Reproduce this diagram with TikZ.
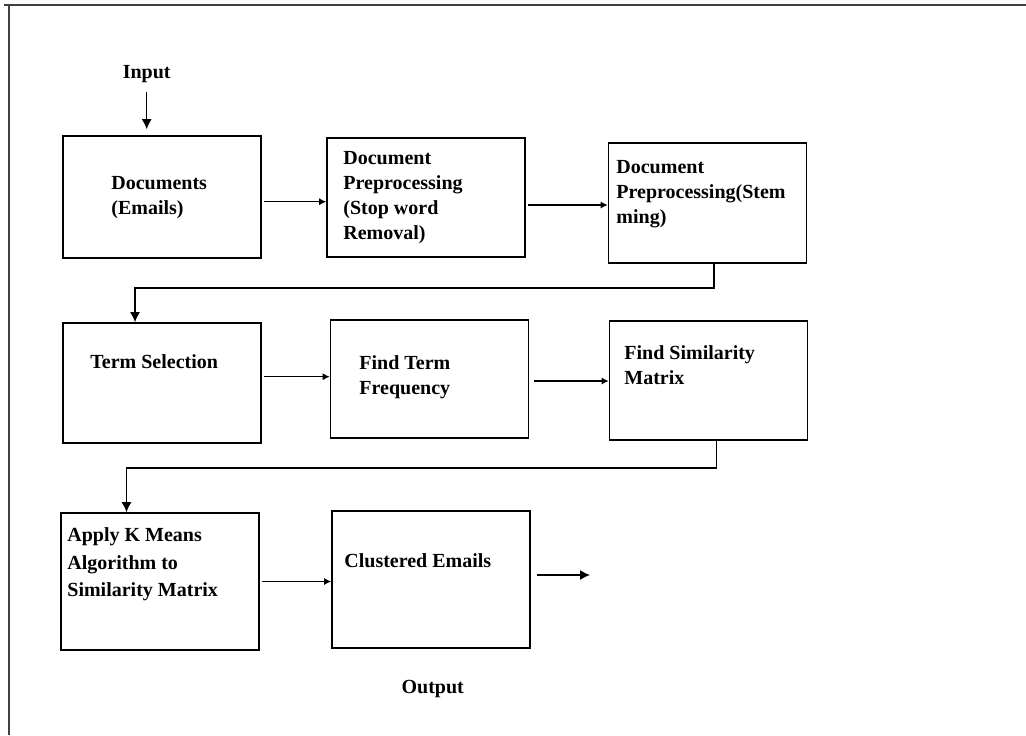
\documentclass[tikz,border=0pt]{standalone}
\usepackage{fontspec}
\setmainfont{Liberation Serif}
\usetikzlibrary{arrows.meta}

\tikzset{
  stage/.style={draw, line width=0.8pt, minimum width=99pt, inner sep=0pt},
  flow/.style={-{Latex[length=3.5pt,width=3.5pt]}, line width=0.6pt},
  bigflow/.style={-{Latex[length=5pt,width=5pt]}, line width=0.7pt},
  caption/.style={align=left, anchor=west, inner sep=0pt},
}

\begin{document}
\begin{tikzpicture}[x=0.5pt, y=-0.5pt, font=\bfseries\fontsize{10}{12.5}\selectfont]

\useasboundingbox (0,0) rectangle (1026,735);

% frame (only top and left are visible)
\begin{scope}[line width=1.3pt, black!75]
\draw (4,5) -- (1026,5);
\draw (9,5) -- (9,735);
\end{scope}

% boxes
\node[stage, minimum height=61pt] (docs) at (162,197) {};
\node[stage, minimum height=59.5pt] (stopw) at (426,197.5) {};
\node[stage, minimum height=60pt] (stem) at (707.5,203) {};

\node[stage, minimum height=60pt] (termsel) at (162,383) {};
\node[stage, minimum height=59pt] (termfreq) at (429.5,379) {};
\node[stage, minimum height=59.5pt] (simmat) at (708.5,380.5) {};

\node[stage, minimum height=68.5pt] (kmeans) at (160,581.5) {};
\node[stage, minimum height=68.5pt] (clust) at (431,579.7) {};

% texts
\node[caption] (docs-t) at (111,197.5) {Documents\\(Emails)};
\node[caption] (stopw-t) at (343,198) {Document\\Preprocessing\\(Stop word\\Removal)};
\node[caption] (stem-t) at (616,194) {Document\\Preprocessing(Stem\\ming)};
\node[caption] (termsel-t) at (90,361.7) {Term Selection};
\node[caption] (termfreq-t) at (359,377) {Find Term\\Frequency};
\node[caption] (simmat-t) at (624,365.5) {Find Similarity\\Matrix};
\node[caption, font=\bfseries\fontsize{10}{13.75}\selectfont] (kmeans-t) at (67,564.5)
  {Apply K Means\\Algorithm to\\Similarity Matrix};
\node[caption] (clust-t) at (344,561) {Clustered Emails};

\node (input) at (146.7,74) {Input};
\node (output) at (432.7,689) {Output};

% arrows in the rows
\draw[flow] ([xshift=1pt,yshift=-2.35pt]docs.east) -- ([yshift=-2.35pt]docs.east -| stopw.west);
\draw[flow] ([xshift=1pt,yshift=-3.75pt]stopw.east) -- ([yshift=-3.75pt]stopw.east -| stem.west);
\draw[flow] ([xshift=1pt,yshift=3.15pt]termsel.east) -- ([yshift=3.15pt]termsel.east -| termfreq.west);
\draw[flow] ([xshift=2.5pt,yshift=-1pt]termfreq.east) -- ([yshift=-1pt]termfreq.east -| simmat.west);
\draw[flow] ([xshift=1pt]kmeans.east) -- (kmeans.east -| clust.west);

% input and output
\draw[bigflow] ([yshift=-1pt]input.south) -- ([yshift=3pt]input.south |- docs.north);
\coordinate (outtip) at (590,575);
\draw[bigflow] ([xshift=3pt]clust.east |- outtip) -- (outtip);

% row to row
\coordinate (bend1) at (135,288);
\draw[bigflow] ([xshift=3.25pt]stem.south) |- (bend1) -- (bend1 |- termsel.north);
\coordinate (bend2) at (126.5,468);
\draw[bigflow] ([xshift=4.1pt]simmat.south) |- (bend2) -- (bend2 |- kmeans.north);

\end{tikzpicture}
\end{document}
